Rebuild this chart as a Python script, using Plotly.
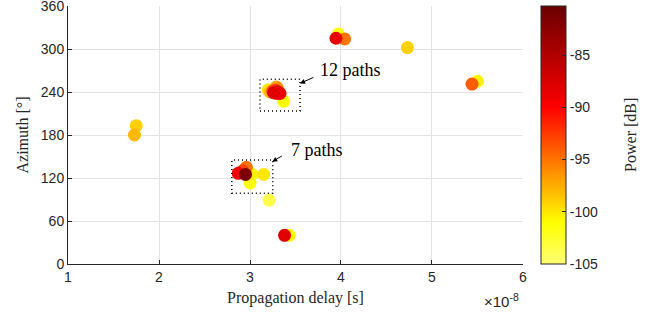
import numpy as np
import plotly.graph_objects as go

# Propagation delay in units of 1e-8 s
delay_1e8 = [1.75, 1.73, 4.73, 5.50, 5.44,
             3.97, 3.945, 4.04,
             3.29, 3.20, 3.31, 3.26, 3.37, 3.28, 3.30, 3.25, 3.33, 3.27, 3.29, 3.22,
             2.87, 2.96, 2.95, 3.02, 3.15, 3.00, 2.92,
             3.21, 3.38, 3.43]
azimuth_deg = [193, 180, 302, 255, 251,
               321, 315, 314,
               247, 243, 240, 239, 227, 242, 245, 241, 238, 244, 238, 240,
               126.5, 135, 125, 125, 125, 113, 130,
               89, 40, 40]
power_db = [-99, -98, -99, -100.5, -94,
            -101, -88.5, -95,
            -97, -100, -89, -88, -101, -92, -96, -93, -90, -99, -91, -98,
            -89, -95, -81.5, -100.5, -100, -101, -93,
            -103.5, -88, -101]

x_ticks = [1, 2, 3, 4, 5, 6]
y_ticks = [0, 60, 120, 180, 240, 300, 360]
cbar_ticks = [-85, -90, -95, -100, -105]

order = np.argsort(power_db, kind="stable")
xs = np.array(delay_1e8)[order]
ys = np.array(azimuth_deg)[order]
cs = np.array(power_db)[order]

colorscale = [[0.0, "rgb(255,255,115)"], [0.16, "rgb(255,255,0)"],
              [0.607, "rgb(255,0,0)"], [1.0, "rgb(105,0,0)"]]

fig = go.Figure()
fig.add_trace(go.Scatter(
    x=xs, y=ys, mode="markers",
    marker=dict(size=13, color=cs, colorscale=colorscale, cmin=-105, cmax=-80.3,
                line=dict(width=0),
                colorbar=dict(
                    x=1.0396, xanchor="left", y=0.5, yanchor="middle",
                    xpad=0, ypad=0,
                    len=1, lenmode="fraction", thickness=25, thicknessmode="pixels",
                    outlinecolor="#262626", outlinewidth=1,
                    tickvals=cbar_ticks, ticktext=[str(t) for t in cbar_ticks],
                    ticks="inside", ticklen=4, tickcolor="#262626",
                    tickfont=dict(family="Liberation Sans", size=14, color="#262626"),
                )),
    showlegend=False, hoverinfo="skip"))

axis_common = dict(showgrid=True, gridcolor="#e3e3e3", gridwidth=1, zeroline=False,
                   showline=True, linecolor="#262626", linewidth=1,
                   ticks="inside", ticklen=4, tickcolor="#262626",
                   tickfont=dict(family="Liberation Sans", size=14, color="#262626"),
                   mirror=False, automargin=False, ticklabeloverflow="allow")

fig.update_xaxes(range=[1, 6.0001], tickvals=x_ticks, ticktext=[str(t) for t in x_ticks],
                 title=dict(text="Propagation delay [s]", standoff=8,
                            font=dict(family="Liberation Serif", size=16, color="#262626")),
                 **axis_common)
fig.update_yaxes(range=[-0.001, 360.001], tickvals=y_ticks, ticktext=[str(t) for t in y_ticks],
                 title=dict(text="Azimuth [°]", standoff=8,
                            font=dict(family="Liberation Serif", size=16, color="#262626")),
                 **axis_common)

# dotted boxes around clusters
fig.add_shape(type="rect", x0=3.11, x1=3.55, y0=213.5, y1=257.7,
              line=dict(color="black", width=1.5, dash="1px,3px"))
fig.add_shape(type="rect", x0=2.80, x1=3.25, y0=98.6, y1=145,
              line=dict(color="black", width=1.5, dash="1px,3px"))

# arrows
fig.add_annotation(x=3.55, y=252, ax=3.714, ay=261.3, axref="x", ayref="y",
                   xref="x", yref="y", text="", showarrow=True,
                   arrowhead=2, arrowsize=1, arrowwidth=1, arrowcolor="black")
fig.add_annotation(x=3.245, y=142.7, ax=3.366, ay=152, axref="x", ayref="y",
                   xref="x", yref="y", text="", showarrow=True,
                   arrowhead=2, arrowsize=1, arrowwidth=1, arrowcolor="black")
fig.add_annotation(x=3.747, y=270.7, xref="x", yref="y", text="12 paths",
                   showarrow=False, xanchor="left", yanchor="middle",
                   font=dict(family="Liberation Serif", size=18, color="black"))
fig.add_annotation(x=3.43, y=159, xref="x", yref="y", text="7 paths",
                   showarrow=False, xanchor="left", yanchor="middle",
                   font=dict(family="Liberation Serif", size=18, color="black"))
# colorbar title
fig.add_annotation(x=1.235, y=0.5, xref="paper", yref="paper", text="Power [dB]",
                   showarrow=False, textangle=-90, xanchor="center", yanchor="middle",
                   font=dict(family="Liberation Serif", size=16, color="#262626"))
# exponent label
fig.add_annotation(x=0.9956, y=-0.14, xref="paper", yref="paper",
                   text="×10<sup>-8</sup>", showarrow=False,
                   xanchor="right", yanchor="middle",
                   font=dict(family="Liberation Sans", size=15, color="#262626"))

fig.update_layout(width=650, height=318,
                  margin=dict(l=68, r=127, t=6, b=54, autoexpand=False),
                  paper_bgcolor="white", plot_bgcolor="white")

fig.write_html("out.html", config={"displayModeBar": False},
               post_script="document.body.style.margin='0';document.body.style.padding='0';")
